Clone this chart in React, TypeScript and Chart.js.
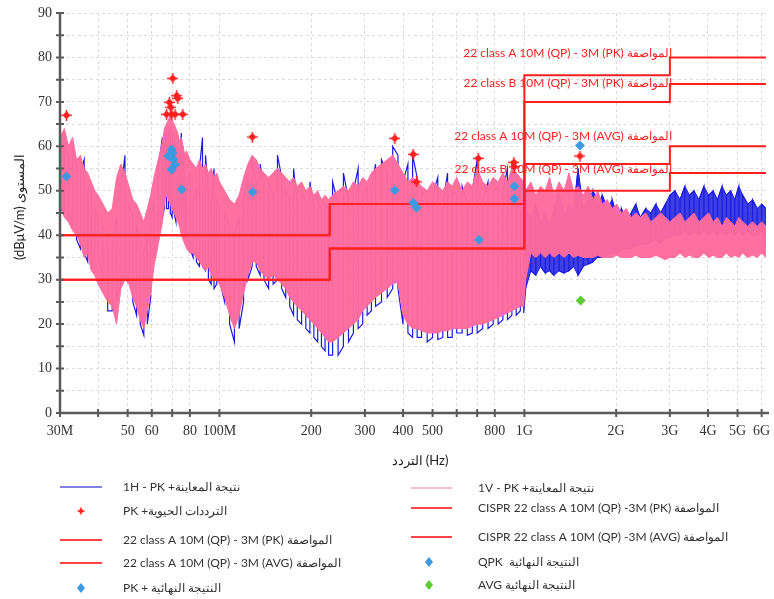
import { useEffect, useRef } from 'react';
import { Chart, registerables } from 'chart.js';
Chart.register(...registerables);

// Scan frequencies (MHz)
const FREQ = [
  30, 31, 32, 33, 34, 35, 36, 37, 38, 39, 40, 41.5, 43, 44.5, 46, 47.5, 49, 50.5, 52, 53.5, 55, 56.5, 58, 59.5, 61, 63, 65, 66, 67, 68, 69, 70, 71, 72, 73, 74, 75, 76, 77, 78, 80, 82, 84, 86, 88, 90, 92, 94, 96, 98, 100,
  104, 108, 112, 116, 120, 124, 128, 132, 136, 140, 145, 150, 155, 160, 165, 170, 175, 180, 186, 192, 198, 204, 210, 216, 222, 228,
  235, 245, 255, 265, 275, 285, 295, 305, 315, 325, 340, 355, 370, 385, 400, 415, 430, 445, 460, 480, 500, 520, 540, 560, 580, 600, 625, 650, 675, 700, 730, 760, 790, 820, 850, 880, 910, 940, 970, 995,
  1010, 1050, 1090, 1130, 1170, 1210, 1250, 1300, 1350, 1400, 1450, 1500, 1560, 1620, 1680, 1740, 1800, 1870, 1940, 2010, 2080, 2160, 2240, 2320, 2400, 2500, 2600, 2700, 2800, 2900, 3000, 3120, 3240, 3360, 3480, 3600, 3740, 3880, 4020, 4160, 4300, 4450, 4600, 4750, 4900, 5050, 5200, 5400, 5600, 5800, 6000, 6200,
];

// 1V - PK scan (pink): upper / lower excursion at each frequency (dBµV/m)
const V_PK_HIGH = [
  62, 64, 60, 62, 57, 58, 55, 54, 52, 50, 49, 47, 45, 46, 53, 56, 54, 51, 48, 47, 45, 43, 46, 49, 53, 57, 61, 64, 65, 66, 67, 66, 65, 64, 63, 61, 62, 60, 58, 59, 57, 56, 55, 57, 55, 56, 54, 55, 53, 54, 52,
  50, 48, 47, 49, 53, 56, 58, 57, 55, 54, 53, 54, 55, 54, 53, 52, 53, 51, 52, 50, 51, 49, 50, 48, 49, 48,
  49, 50, 51, 50, 52, 51, 53, 52, 54, 55, 56, 57, 58, 56, 54, 52, 53, 52, 51, 50, 52, 51, 50, 52, 51, 53, 50, 52, 51, 55, 52, 51, 53, 52, 54, 52, 55, 54, 53, 52,
  50, 52, 49, 51, 50, 53, 49, 52, 50, 54, 50, 51, 49, 51, 48, 50, 47, 48, 46, 47, 45, 46, 44, 45, 44, 45, 43, 44, 45, 44, 43, 44, 45, 43, 44, 45, 43, 44, 45, 43, 44, 42, 44, 43, 42, 44, 43, 42, 43, 42, 43, 42,
];
const V_PK_LOW = [
  47, 44, 43, 41, 40, 38, 35, 36, 32, 31, 29, 27, 25, 24, 20, 28, 30, 29, 26, 24, 21, 19, 23, 27, 33, 38, 43, 47, 49, 48, 47, 46, 45, 44, 43, 42, 40, 39, 38, 37, 36, 36, 35, 34, 33, 32, 33, 31, 30, 30, 29,
  26, 22, 19, 22, 27, 31, 34, 34, 32, 31, 30, 31, 30, 29, 28, 26, 25, 24, 23, 22, 21, 20, 19, 18, 17, 16,
  16, 17, 18, 19, 20, 21, 23, 24, 25, 26, 27, 28, 29, 29.5, 22, 20, 19, 19, 18.5, 18, 18, 18, 18.5, 18.5, 19, 19, 19, 19, 19.5, 20, 20, 20.5, 21, 21.5, 22, 22.5, 23, 23.5, 24, 24,
  30, 36, 35, 36, 35, 36, 35, 36, 35, 36, 35, 35.5, 35, 35, 35, 35.5, 35, 35, 35, 35.5, 35, 35, 35, 35.5, 35, 35, 35, 35.5, 35, 34.5, 35, 35, 36, 35, 35.5, 35, 35, 36, 35, 35.5, 35, 35, 36, 35, 35.5, 35, 36, 35, 35.5, 35, 36, 35,
];

// 1H - PK scan (blue)
const H_PK_HIGH = [
  58, 61, 57, 60, 55, 54, 57, 50, 51, 46, 44, 42, 40, 38, 44, 50, 58, 47, 44, 42, 38, 36, 40, 44, 48, 55, 62, 61, 64, 63, 64, 63, 62, 60, 58, 57, 63, 60, 52, 50, 54, 48, 50, 55, 62, 58, 50, 47, 55, 48, 46,
  45, 42, 40, 44, 48, 54, 57, 52, 56, 50, 52, 49, 58, 53, 50, 48, 55, 47, 50, 47, 52, 46, 49, 45, 47, 46,
  52, 47, 54, 48, 50, 55, 49, 51, 50, 56, 57, 54, 60, 58, 52, 56, 58, 53, 50, 48, 49, 53, 47, 54, 50, 49, 51, 47, 50, 57, 48, 52, 50, 51, 50, 55, 56, 53, 52, 50,
  46, 44, 47, 43, 45, 42, 46, 50, 44, 47, 45, 55, 46, 48, 50, 47, 49, 46, 48, 44, 46, 43, 45, 47, 44, 46, 45, 47, 45, 47, 49, 50, 48, 51, 49, 50, 48, 51, 49, 50, 48, 51, 49, 50, 48, 51, 49, 47, 48, 46, 47, 46,
];
const H_PK_LOW = [
  46, 45, 44, 42, 39, 37, 36, 34, 33, 35, 36, 30, 23, 23, 26, 29, 31, 30, 25, 22, 20, 17.5, 20, 26, 35, 40, 44, 46, 46, 46, 45, 44, 45, 43, 44, 44, 45, 44, 40, 38, 37, 35, 34, 33, 33, 32, 30, 29, 28, 29, 30,
  25, 20, 16, 19, 25, 30, 33, 33, 31, 30, 28, 29, 30, 28, 26, 24, 22, 21, 20, 19, 18, 17, 16, 15, 14, 13,
  13, 13, 15, 16, 18, 19, 20, 22, 23, 24, 25, 26, 28, 28, 20, 18, 17, 17, 17, 16, 17, 16.5, 17, 17, 17, 18, 18, 17.5, 18, 18, 19, 19, 20, 20, 21, 21, 22, 22, 23, 22.5,
  28, 32, 31, 33, 31.5, 32, 31, 32, 31.5, 32, 33, 31, 33, 33.5, 34, 35, 35, 35.5, 36, 36, 36.5, 37, 37, 37.5, 38, 38, 38.5, 39, 38, 39, 39.5, 40, 40, 41, 40, 41, 40, 41, 40, 41, 40, 41, 40, 41, 40, 41, 40, 41, 40, 40, 41, 40,
];

// Limit lines (CISPR 22)
const LIMIT_FREQ = [30, 230, 1000, 3000, 6200];
const CLASS_A_PK = [40, 47, 76, 80, 80];
const CLASS_A_AVG = [40, 47, 56, 60, 60];
const CLASS_B_PK = [30, 37, 70, 74, 74];
const CLASS_B_AVG = [30, 37, 50, 54, 54];
const LIMIT_LABELS = [
  '22 class A 10M (QP) - 3M (PK) المواصفة',
  '22 class B 10M (QP) - 3M (PK) المواصفة',
  '22 class A 10M (QP) - 3M (AVG) المواصفة',
  '22 class B 10M (QP) - 3M (AVG) المواصفة',
];

// Critical frequencies (PK)
const CRIT_FREQ = [31.5, 67.1, 68.5, 69.2, 69.7, 70.3, 71.5, 72.4, 73.0, 75.8, 128.2, 376, 432, 443, 706, 924, 928, 1521];
const CRIT_LEVEL = [67.0, 67.2, 69.9, 68.8, 67.2, 75.3, 67.2, 71.4, 70.8, 67.2, 62.1, 61.8, 58.2, 52.0, 57.3, 56.4, 55.4, 57.8];

// Final results
const QPK_FREQ = [31.5, 68.0, 69.7, 70.2, 70.6, 71.5, 69.7, 75.2, 128.5, 376, 432, 443, 710, 928, 928, 1521];
const QPK_LEVEL = [53.2, 57.8, 59.3, 58.5, 57.1, 55.9, 54.8, 50.3, 49.7, 50.1, 47.3, 46.2, 39.0, 51.0, 48.2, 60.2];
const AVG_FREQ = [1530];
const AVG_LEVEL = [25.3];

// Axes
const X_TICKS = [30, 40, 50, 60, 70, 80, 100, 200, 300, 400, 500, 600, 700, 800, 1000, 2000, 3000, 4000, 5000, 6000];
const X_TICK_LABELS = ['30M', '', '50', '60', '', '80', '100M', '200', '300', '400', '500', '', '', '800', '1G', '2G', '3G', '4G', '5G', '6G'];
const Y_TICKS = [0, 5, 10, 15, 20, 25, 30, 35, 40, 45, 50, 55, 60, 65, 70, 75, 80, 85, 90];
const X_TITLE = 'التردد (Hz)';
const Y_TITLE = '(dBμV/m) المستوى';

const LEGEND_LEFT = [
  '1H - PK +نتيجة المعاينة',
  'PK +الترددات الحيوية',
  '22 class A 10M (QP) - 3M (PK) المواصفة',
  '22 class A 10M (QP) - 3M (AVG) المواصفة',
  'PK + النتيجة النهائية',
];
const LEGEND_RIGHT = [
  '1V - PK +نتيجة المعاينة',
  'CISPR 22 class A 10M (QP) -3M (PK) المواصفة',
  'CISPR 22 class A 10M (QP) -3M (AVG) المواصفة',
  'QPK  النتيجة النهائية',
  'AVG النتيجة النهائية',
];

const RED = '#ff1f1f';
const PINK = '#ff6b9d';
const BLUE = '#1c1ce0';
const DIAMOND_BLUE = '#3d9ae0';
const GREEN = '#5ccc33';

function makeStar(): HTMLCanvasElement {
  const c = document.createElement('canvas');
  c.width = 11;
  c.height = 11;
  const g = c.getContext('2d')!;
  g.fillStyle = RED;
  g.beginPath();
  g.moveTo(5.5, 1.5);
  g.lineTo(9.5, 5.5);
  g.lineTo(5.5, 9.5);
  g.lineTo(1.5, 5.5);
  g.closePath();
  g.fill();
  g.fillRect(0, 4.8, 11, 1.4);
  g.fillRect(4.8, 0, 1.4, 11);
  return c;
}

const pts = (xs: number[], ys: number[]) => xs.map((x, i) => ({ x, y: ys[i] }));

export default function App() {
  const ref = useRef<HTMLCanvasElement>(null);
  useEffect(() => {
    document.body.style.margin = '0';
    const star = makeStar();
    // the sweep drawn as vertical strokes between each frequency's low and high reading
    const blueTrace = FREQ.flatMap((f, i) =>
      i % 2 === 0
        ? [{ x: f, y: H_PK_HIGH[i] }, { x: f, y: H_PK_LOW[i] }]
        : [{ x: f, y: H_PK_LOW[i] }, { x: f, y: H_PK_HIGH[i] }],
    );
    const gStart = FREQ.findIndex((f) => f > 1000);
    const limitDs = (vals: number[]) => ({
      type: 'line' as const,
      data: pts(LIMIT_FREQ, vals),
      borderColor: RED,
      borderWidth: 2,
      pointRadius: 0,
      stepped: true,
      fill: false,
      order: 1,
    });

    const decor = {
      id: 'decor',
      afterDatasetsDraw(chart: any) {
        const { ctx, chartArea: a, scales } = chart;
        const x = scales.x;
        const y = scales.y;
        ctx.save();
        ctx.strokeStyle = '#5a5a5a';
        ctx.lineWidth = 2.5;
        ctx.beginPath();
        ctx.moveTo(a.left, a.top - 1);
        ctx.lineTo(a.left, a.bottom);
        ctx.lineTo(a.right + 3, a.bottom);
        ctx.stroke();
        ctx.lineWidth = 2;
        ctx.beginPath();
        for (const v of Y_TICKS) {
          const py = y.getPixelForValue(v);
          ctx.moveTo(a.left - 4, py);
          ctx.lineTo(a.left + 4, py);
        }
        for (const f of X_TICKS) {
          const px = x.getPixelForValue(f);
          ctx.moveTo(px, a.bottom - 4);
          ctx.lineTo(px, a.bottom + 4);
        }
        ctx.stroke();
        const levels = [81, 74.2, 62.2, 54.9];
        ctx.fillStyle = RED;
        ctx.font = '12px Lato';
        ctx.textAlign = 'right';
        ctx.textBaseline = 'middle';
        const rx = x.getPixelForValue(3000) + 2;
        LIMIT_LABELS.forEach((t, i) => ctx.fillText(t, rx, y.getPixelForValue(levels[i])));
        ctx.restore();
      },
      afterDraw(chart: any) {
        const { ctx } = chart;
        ctx.save();
        ctx.fillStyle = '#222';
        ctx.font = '13px Lato';
        ctx.textAlign = 'center';
        ctx.textBaseline = 'middle';
        ctx.fillText(X_TITLE, 420, 461);
        ctx.save();
        ctx.translate(20, 207);
        ctx.rotate(-Math.PI / 2);
        ctx.fillText(Y_TITLE, 0, 0);
        ctx.restore();

        const rowsL = [487, 511, 540, 563, 588];
        const rowsR = [488, 508, 537, 562, 585];
        const line = (x0: number, x1: number, yy: number, c: string, w: number) => {
          ctx.strokeStyle = c;
          ctx.lineWidth = w;
          ctx.beginPath();
          ctx.moveTo(x0, yy);
          ctx.lineTo(x1, yy);
          ctx.stroke();
        };
        const diamond = (cx: number, cy: number, c: string) => {
          ctx.fillStyle = c;
          ctx.beginPath();
          ctx.moveTo(cx, cy - 5);
          ctx.lineTo(cx + 4, cy);
          ctx.lineTo(cx, cy + 5);
          ctx.lineTo(cx - 4, cy);
          ctx.closePath();
          ctx.fill();
        };
        line(60, 102, rowsL[0], '#5656dc', 1.5);
        ctx.drawImage(star, 81 - 4, rowsL[1] - 4, 8, 8);
        line(60, 102, rowsL[2], '#ff4444', 2);
        line(60, 102, rowsL[3], '#ff4444', 2);
        diamond(81, rowsL[4], DIAMOND_BLUE);
        line(411, 452, rowsR[0], '#f6a7ba', 1.5);
        line(411, 452, rowsR[1], '#ff4444', 2);
        line(411, 452, rowsR[2], '#ff4444', 2);
        diamond(429, rowsR[3], DIAMOND_BLUE);
        diamond(429, rowsR[4], GREEN);

        ctx.fillStyle = '#333';
        ctx.font = '12px Lato';
        ctx.textAlign = 'left';
        LEGEND_LEFT.forEach((t, i) => ctx.fillText(t, 123, rowsL[i]));
        LEGEND_RIGHT.forEach((t, i) => ctx.fillText(t, 478, rowsR[i]));
        ctx.restore();
      },
    };

    const chart = new Chart(ref.current!, {
      type: 'line',
      data: {
        datasets: [
          {
            data: pts(QPK_FREQ, QPK_LEVEL),
            showLine: false,
            pointStyle: 'rectRot',
            pointRadius: 5,
            pointBackgroundColor: DIAMOND_BLUE,
            pointBorderWidth: 0,
            order: 0,
          },
          {
            data: pts(AVG_FREQ, AVG_LEVEL),
            showLine: false,
            pointStyle: 'rectRot',
            pointRadius: 5,
            pointBackgroundColor: GREEN,
            pointBorderWidth: 0,
            order: 0,
          },
          {
            data: pts(CRIT_FREQ, CRIT_LEVEL),
            showLine: false,
            pointStyle: star,
            pointRadius: 5,
            order: 0,
          },
          limitDs(CLASS_A_PK),
          limitDs(CLASS_A_AVG),
          limitDs(CLASS_B_PK),
          limitDs(CLASS_B_AVG),
          {
            data: pts(FREQ, V_PK_HIGH),
            borderColor: PINK,
            borderWidth: 1,
            backgroundColor: 'rgba(255,107,157,0.97)',
            pointRadius: 0,
            fill: '+1',
            order: 2,
          },
          {
            data: pts(FREQ, V_PK_LOW),
            borderColor: PINK,
            borderWidth: 1,
            pointRadius: 0,
            fill: false,
            order: 2,
          },
          {
            data: blueTrace,
            borderColor: BLUE,
            borderWidth: 1.2,
            pointRadius: 0,
            fill: false,
            order: 3,
          },
          {
            data: pts(FREQ.slice(gStart), H_PK_HIGH.slice(gStart)),
            borderColor: BLUE,
            borderWidth: 1,
            backgroundColor: 'rgba(28,28,224,0.85)',
            pointRadius: 0,
            fill: '+1',
            order: 4,
          },
          {
            data: pts(FREQ.slice(gStart), H_PK_LOW.slice(gStart)),
            borderColor: BLUE,
            borderWidth: 1,
            pointRadius: 0,
            fill: false,
            order: 4,
          },
        ],
      },
      options: {
        animation: false,
        responsive: false,
        maintainAspectRatio: false,
        layout: { padding: { top: 13, right: 8, left: 0, bottom: 0 } },
        plugins: { legend: { display: false }, tooltip: { enabled: false } },
        elements: { line: { tension: 0 } },
        scales: {
          x: {
            type: 'logarithmic',
            min: 30,
            max: 6200,
            afterBuildTicks: (s: any) => {
              s.ticks = X_TICKS.map((v) => ({ value: v }));
            },
            afterFit: (s: any) => {
              s.height = 186;
              s.paddingLeft = 0;
              s.paddingRight = 0;
            },
            ticks: {
              autoSkip: false,
              maxRotation: 0,
              padding: 10,
              color: '#333',
              font: { family: 'Liberation Serif', size: 14 },
              callback: (_v: any, i: number) => X_TICK_LABELS[i],
            },
            grid: { color: '#dcdcdc', drawTicks: false, lineWidth: 1 },
            border: { display: false, dash: [3, 3] },
          },
          y: {
            min: 0,
            max: 90,
            afterBuildTicks: (s: any) => {
              s.ticks = Y_TICKS.map((v) => ({ value: v }));
            },
            afterFit: (s: any) => {
              s.width = 60;
              s.paddingTop = 0;
              s.paddingBottom = 0;
            },
            ticks: {
              autoSkip: false,
              padding: 8,
              color: '#333',
              font: { family: 'Liberation Serif', size: 14 },
              callback: (v: any) => (Number(v) % 10 === 0 ? String(v) : ''),
            },
            grid: { color: '#dcdcdc', drawTicks: false, lineWidth: 1 },
            border: { display: false, dash: [3, 3] },
          },
        },
      },
      plugins: [decor],
    } as any);
    return () => chart.destroy();
  }, []);
  return (
    <div style={{ width: 774, height: 599 }}>
      <canvas ref={ref} width={774} height={599} />
    </div>
  );
}
